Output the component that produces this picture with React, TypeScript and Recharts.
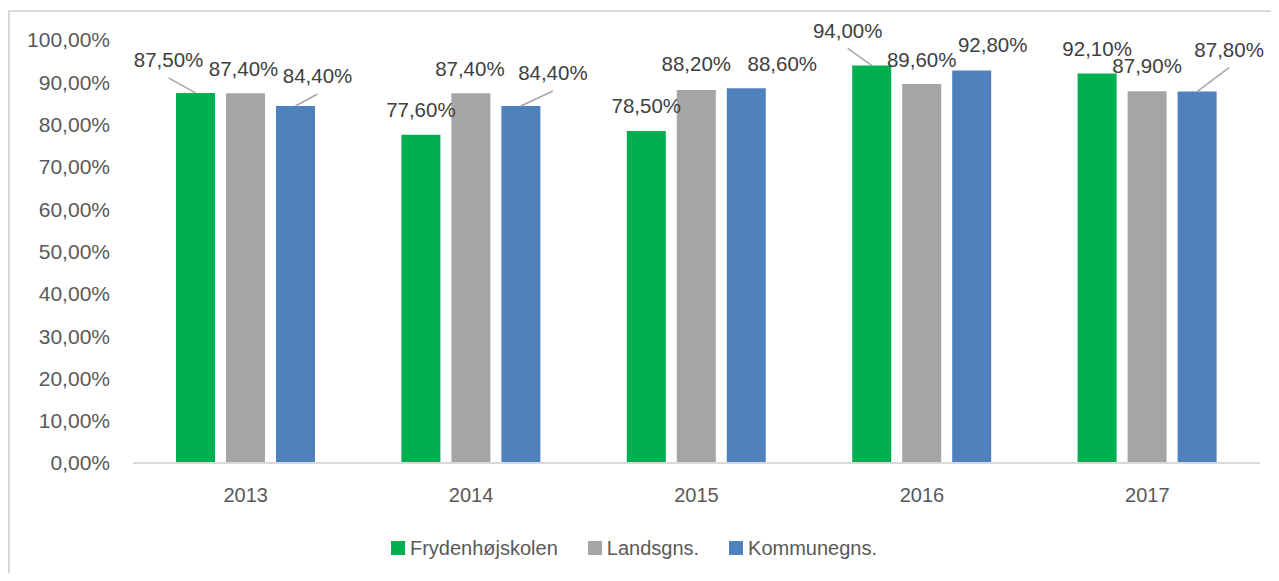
import { BarChart, Bar, XAxis, YAxis, Legend, LabelList } from 'recharts';

const years = ['2013', '2014', '2015', '2016', '2017'];
const frydenhoj = [87.5, 77.6, 78.5, 94.0, 92.1];
const landsgns = [87.4, 87.4, 88.2, 89.6, 87.9];
const kommunegns = [84.4, 84.4, 88.6, 92.8, 87.8];
const yTicks = [0, 10, 20, 30, 40, 50, 60, 70, 80, 90, 100];

const series = [
  { key: 'frydenhoj', name: 'Frydenhøjskolen', color: '#00b050' },
  { key: 'landsgns', name: 'Landsgns.', color: '#a5a5a5' },
  { key: 'kommunegns', name: 'Kommunegns.', color: '#4f81bd' },
];

// label placement like Excel put them: [dx, dy, leader line]
const labelPos: Record<string, [number, number, boolean][]> = {
  frydenhoj: [[-27, -33, true], [0, -25, false], [0, -25, false], [-24, -35, true], [0, -25, false]],
  landsgns: [[-2, -25, false], [-1, -25, false], [0, -26, false], [0, -24, false], [0, -26, false]],
  kommunegns: [[22, -30, true], [32, -33, true], [36, -25, false], [21, -26, false], [32, -42, true]],
};

const data = years.map((year, i) => ({
  year,
  frydenhoj: frydenhoj[i],
  landsgns: landsgns[i],
  kommunegns: kommunegns[i],
}));

const FONT = '"Liberation Sans", Arial, sans-serif';
const fmt = (v: number) => `${Number(v).toFixed(2).replace('.', ',')}%`;

const makeLabel = (key: string) => (props: any) => {
  const { x, y, width, value, index } = props;
  const [dx, dy, leader] = labelPos[key][index];
  const cx = Number(x) + Number(width) / 2;
  const top = Number(y);
  return (
    <g>
      {leader && (
        <line x1={cx + dx} y1={top + dy + 18} x2={cx} y2={top} stroke="#a6a6a6" strokeWidth={1.5} />
      )}
      <text
        x={cx + dx}
        y={top + dy}
        textAnchor="middle"
        dominantBaseline="central"
        fontSize={20.5}
        fontFamily={FONT}
        fill="#404040"
      >
        {fmt(value)}
      </text>
    </g>
  );
};

const LegendBox = () => (
  <div
    style={{
      display: 'flex',
      justifyContent: 'center',
      alignItems: 'center',
      gap: 30,
      height: 30,
      fontFamily: FONT,
      fontSize: 20,
      color: '#595959',
    }}
  >
    {series.map((s) => (
      <div key={s.key} style={{ display: 'flex', alignItems: 'center', gap: 5 }}>
        <span style={{ width: 14, height: 14, background: s.color, display: 'inline-block' }} />
        <span>{s.name}</span>
      </div>
    ))}
  </div>
);

export default function App() {
  return (
    <div style={{ position: 'relative', width: 1271, height: 565 }}>
      <div
        style={{
          position: 'absolute',
          left: 0,
          top: 2,
          width: 1271,
          height: 571,
          boxSizing: 'border-box',
          borderLeft: '2px solid #d9d9d9',
          borderTop: '2px solid #d9d9d9',
        }}
      />
      <BarChart
        width={1271}
        height={565}
        data={data}
        margin={{ top: 32, right: 19, left: 0, bottom: 10 }}
        barSize={39}
        barGap={11}
      >
        <XAxis
          dataKey="year"
          height={70}
          tickLine={false}
          tickSize={0}
          tickMargin={25}
          axisLine={{ stroke: '#d9d9d9', strokeWidth: 2 }}
          tick={{ fill: '#595959', fontSize: 20, fontFamily: FONT }}
        />
        <YAxis
          width={125}
          domain={[0, 100]}
          ticks={yTicks}
          axisLine={false}
          tickLine={false}
          tickSize={0}
          tickMargin={23}
          tickFormatter={fmt}
          tick={{ fill: '#595959', fontSize: 21, fontFamily: FONT }}
        />
        <Legend verticalAlign="bottom" content={() => <LegendBox />} />
        {series.map((s) => (
          <Bar key={s.key} dataKey={s.key} name={s.name} fill={s.color} isAnimationActive={false}>
            <LabelList dataKey={s.key} content={makeLabel(s.key)} />
          </Bar>
        ))}
      </BarChart>
    </div>
  );
}
